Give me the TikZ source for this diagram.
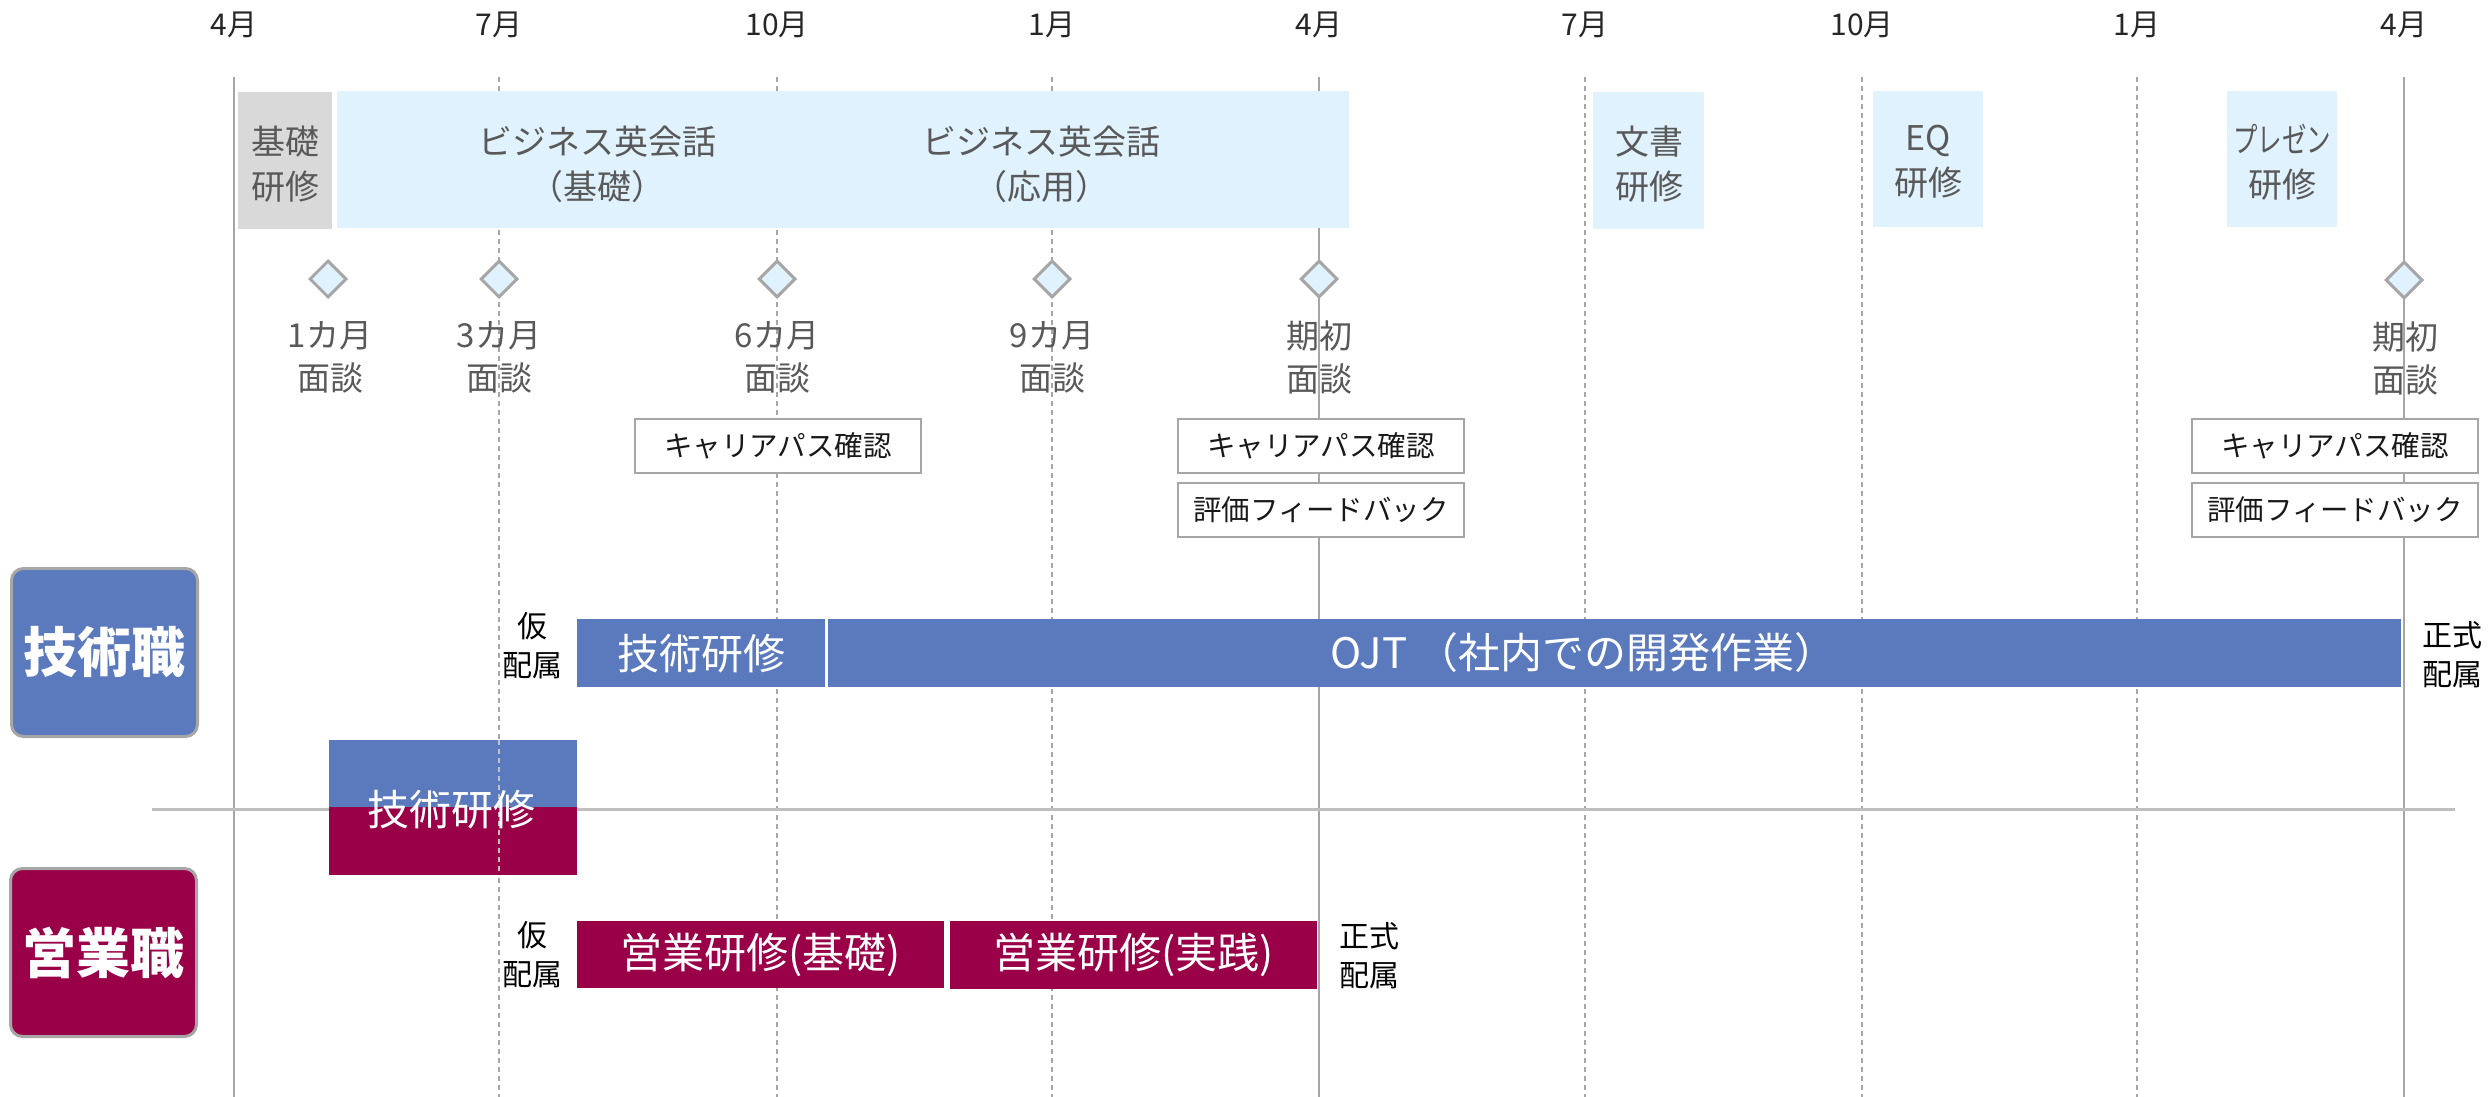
\documentclass[tikz,border=0pt]{standalone}
\usepackage{fontspec}
\usepackage{graphicx}
\setmainfont{Noto Sans CJK JP}
\usetikzlibrary{shapes.geometric}
\definecolor{lb}{HTML}{E0F2FD}
\definecolor{gbox}{HTML}{D9D9D9}
\definecolor{tgray}{HTML}{595959}
\definecolor{lgray}{HTML}{A6A6A6}
\definecolor{blu}{HTML}{5A7ABD}
\definecolor{crim}{HTML}{990047}
\definecolor{hline}{HTML}{BFBFBF}
\begin{document}
\begin{tikzpicture}[x=1pt,y=-1pt,
  solidgrid/.style={draw=lgray, line width=2.5pt},
  dashgrid/.style={draw=lgray, line width=1.3pt, dash pattern=on 5pt off 4pt},
  mlabel/.style={font=\fontsize{30}{35}\selectfont, text=black!85, inner sep=0pt},
  topbox/.style={anchor=north west, inner sep=0pt, fill=lb, draw=none},
  toptext/.style={font=\fontsize{34}{45}\selectfont, text=tgray, align=center, inner sep=0pt},
  mtg/.style={diamond, draw=lgray, line width=3pt, fill=lb, minimum width=37pt, minimum height=37pt, inner sep=0pt},
  mtgtext/.style={font=\fontsize{33}{43}\selectfont, text=tgray, align=center, inner sep=0pt},
  wbox/.style={draw=lgray, line width=2pt, fill=white, minimum width=286pt, minimum height=54pt, inner sep=0pt, font=\fontsize{28.5}{32}\selectfont, text=black!90},
  lane/.style={anchor=north west, rounded corners=12pt, draw=lgray, line width=3pt, minimum width=186pt, minimum height=168pt, inner sep=0pt, text=white, font=\fontsize{54}{60}\selectfont\bfseries},
  bar/.style={anchor=north west, inner sep=0pt, draw=none, text=white, font=\fontsize{42}{48}\selectfont},
  side/.style={font=\fontsize{30}{39}\selectfont, text=black, align=center, inner sep=0pt}
]
\useasboundingbox (0,0) rectangle (2489,1097);

% grid coordinates
\foreach \n/\x in {a/234,b/499,c/777,d/1052,e/1319,f/1585,g/1862,h/2137,i/2404}{
  \coordinate (\n t) at (\x,77);
  \coordinate (\n b) at (\x,1097);
}
% month labels
\node[mlabel] (ma) at (234,25) {4月};
\node[mlabel] (mb) at (499,25) {7月};
\node[mlabel] (mc) at (777,25) {10月};
\node[mlabel] (md) at (1052,25) {1月};
\node[mlabel] (me) at (1319,25) {4月};
\node[mlabel] (mf) at (1585,25) {7月};
\node[mlabel] (mg) at (1862,25) {10月};
\node[mlabel] (mh) at (2137,25) {1月};
\node[mlabel] (mi) at (2404,25) {4月};

% grid lines
\foreach \n in {b,c,d,f,g,h}{ \draw[dashgrid] (\n t) -- (\n b); }
\foreach \n in {a,e,i}{ \draw[solidgrid] (\n t) -- (\n b); }

% horizontal divider
\coordinate (hl) at (152,809);
\coordinate (hr) at (2455,809);
\draw[draw=hline, line width=3pt] (hl) -- (hr);

% top training boxes
\node[topbox, fill=gbox, minimum width=94pt, minimum height=137pt] (kiso) at (238,92) {};
\node[toptext] (kisot) at (285,164) {基礎\\研修};
\node[topbox, minimum width=1012pt, minimum height=137pt] (biz) at (337,91) {};
\node[toptext] (biz1) at (597,164) {ビジネス英会話\\（基礎）};
\node[toptext] (biz2) at (1041,164) {ビジネス英会話\\（応用）};
\node[topbox, minimum width=111pt, minimum height=137pt] (bun) at (1593,92) {};
\node[toptext] (bunt) at (1649,164) {文書\\研修};
\node[topbox, minimum width=110pt, minimum height=136pt] (eq) at (1873,91) {};
\node[toptext] (eqt) at (1928,162) {EQ\\研修};
\node[topbox, minimum width=110pt, minimum height=136pt] (pre) at (2227,91) {};
\node[toptext] (pret) at (2282,162) {\scalebox{0.72}[1]{プレゼン}\\研修};

% meetings
\node[mtg] (d1) at (328,279) {};
\node[mtg] (d2) at (499,279) {};
\node[mtg] (d3) at (777,279) {};
\node[mtg] (d4) at (1052,279) {};
\node[mtg] (d5) at (1319,279) {};
\node[mtg] (d6) at (2404,280) {};
\node[mtgtext] (t1) at (330,357) {1カ月\\面談};
\node[mtgtext] (t2) at (499,357) {3カ月\\面談};
\node[mtgtext] (t3) at (777,357) {6カ月\\面談};
\node[mtgtext] (t4) at (1052,357) {9カ月\\面談};
\node[mtgtext] (t5) at (1319,357) {期初\\面談};
\node[mtgtext] (t6) at (2405,358) {期初\\面談};

% white boxes
\node[wbox] (c1) at (778,446) {キャリアパス確認};
\node[wbox] (c2) at (1321,446) {キャリアパス確認};
\node[wbox] (e2) at (1321,510) {評価フィードバック};
\node[wbox] (c3) at (2335,446) {キャリアパス確認};
\node[wbox] (e3) at (2335,510) {評価フィードバック};

% lanes
\node[lane, fill=blu] (tech) at (10,567) {技術職};
\node[lane, fill=crim] (sales) at (9,867) {営業職};

% tech bars
\node[bar, fill=blu, minimum width=248pt, minimum height=68pt] (techtr) at (577,619) {技術研修};
\node[bar, fill=blu, minimum width=1573pt, minimum height=68pt] (ojt) at (828,619) {};
\node[bar] (ojtt) at (1330,653) [anchor=west] {OJT （社内での開発作業）};

% shared training
\node[bar, fill=blu, minimum width=248pt, minimum height=67pt] (shtop) at (329,740) {};
\node[bar, fill=crim, minimum width=248pt, minimum height=68pt] (shbot) at (329,807) {};
\coordinate (sgt) at (499,740);
\coordinate (sgb) at (499,875);
\draw[dashgrid, draw=lgray!70] (sgt) -- (sgb);
\node[bar] (sht) at (451,810) [anchor=center] {技術研修};

% sales bars
\node[bar, fill=crim, minimum width=367pt, minimum height=67pt] (s1) at (577,921) {営業研修(基礎)};
\node[bar, fill=crim, minimum width=367pt, minimum height=68pt] (s2) at (950,921) {営業研修(実践)};

% side labels
\node[side] (k1) at (532,646) {仮\\配属};
\node[side] (k2) at (532,955) {仮\\配属};
\node[side] (f1) at (2452,655) {正式\\配属};
\node[side] (f2) at (1369,956) {正式\\配属};
\end{tikzpicture}
\end{document}
